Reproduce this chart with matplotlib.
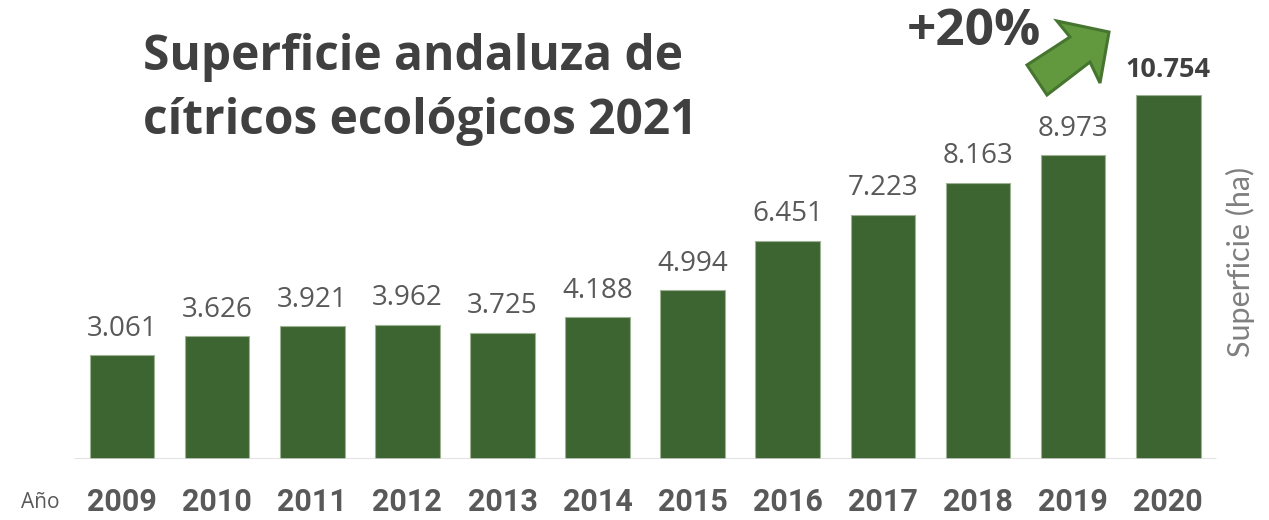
import numpy as np
import matplotlib.pyplot as plt
from matplotlib.patches import Polygon

# ---------- data ----------
years = ["2009", "2010", "2011", "2012", "2013", "2014",
         "2015", "2016", "2017", "2018", "2019", "2020"]
superficie = [3061, 3626, 3921, 3962, 3725, 4188,
              4994, 6451, 7223, 8163, 8973, 10754]
value_labels = ["3.061", "3.626", "3.921", "3.962", "3.725", "4.188",
                "4.994", "6.451", "7.223", "8.163", "8.973", "10.754"]

title_lines = ["Superficie andaluza de", "cítricos ecológicos 2021"]
growth_label = "+20%"
y_label = "Superficie (ha)"
x_label = "Año"

BAR_COLOR = "#3d6531"
TEXT_DARK = "#404040"
TEXT_MID = "#595959"
W, H = 1269, 520


def px(x, y):
    """pixel coords (from top-left) -> figure fraction"""
    return x / W, 1 - y / H


fig = plt.figure(figsize=(W / 100, H / 100), dpi=100)
ax = fig.add_axes([0, 61 / H, 1, 459 / H])

x = np.arange(len(years))
ax.bar(x, superficie, width=0.68, color=BAR_COLOR,
       edgecolor="#9db394", linewidth=0.8, zorder=2)
ax.hlines(0, -0.5, 11.5, color="#d9d9d9", linewidth=1.8, zorder=3)

ax.set_xlim(-1.283, 12.06)
ax.set_ylim(0, 13560)
ax.axis("off")

# value labels above bars (last one highlighted)
for i, (v, lab) in enumerate(zip(superficie, value_labels)):
    last = i == len(years) - 1
    ax.annotate(lab, (i, v), xytext=(0, 13 if last else 14),
                textcoords="offset points", ha="center", va="baseline",
                fontsize=19.5 if last else 20,
                fontweight="bold" if last else "normal",
                family="Open Sans", color=TEXT_DARK if last else TEXT_MID)

# year labels under the axis
for i, yr in enumerate(years):
    ax.annotate(yr, (i, 0), xytext=(0, -31), textcoords="offset points",
                ha="center", va="center", fontsize=22, fontweight="bold",
                family="Roboto", color=TEXT_MID)

fig.text(*px(40, 503), x_label, ha="center", va="center",
         fontsize=15, family="Open Sans", color=TEXT_MID)

fig.text(*px(1240, 262), y_label, ha="center", va="center", rotation=90,
         fontsize=22, family="Lato", fontweight="normal", color="#7f7f7f")

# title, two lines
for line, base in zip(title_lines, [70, 134]):
    fig.text(*px(143, base), line, ha="left", va="baseline",
             fontsize=34.5, fontweight="bold", family="Open Sans",
             color=TEXT_DARK)

# growth annotation
fig.text(*px(974, 32), growth_label, ha="center", va="center",
         fontsize=37, fontweight="bold", family="Open Sans",
         color=TEXT_DARK)

arrow_pts = [(1027, 65), (1070, 37), (1057, 21), (1109, 32),
             (1100, 83), (1090, 62), (1047, 95)]
arrow = Polygon([px(a, b) for a, b in arrow_pts], closed=True,
                transform=fig.transFigure, facecolor="#62993e",
                edgecolor="#467530", linewidth=2.2, zorder=5)
fig.patches.append(arrow)

fig.savefig("out.png", dpi=100)
